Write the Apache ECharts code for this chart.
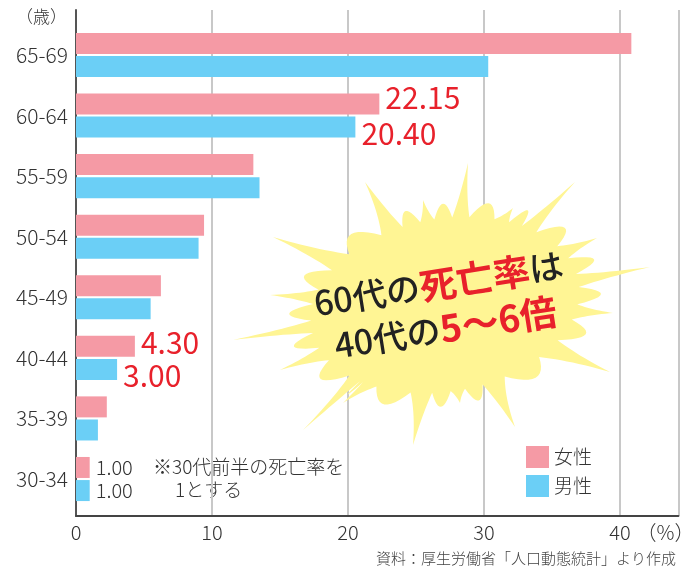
<!DOCTYPE html>
<html>
<head>
<meta charset="utf-8">
<script src="https://cdn.jsdelivr.net/npm/echarts@6/dist/echarts.min.js"></script>
<style>
    html, body { margin: 0; padding: 0; background: #fff; }
    #chart { width: 697px; height: 568px; }
</style>
</head>
<body>
<div id="chart"></div>
<script>
// 年齢階級（上から下）
const ageGroups = ['65-69', '60-64', '55-59', '50-54', '45-49', '40-44', '35-39', '30-34']
// 30代前半を 1 とした死亡率
const femaleRates = [40.55, 22.15, 12.95, 9.35, 6.2, 4.30, 2.25, 1.00]
const maleRates   = [30.1, 20.40, 13.4, 8.95, 5.45, 3.00, 1.6, 1.00]
const xTicks = [0, 10, 20, 30, 40]

// 値ラベルを出す行（index -> 縦方向のずらし, 色, サイズ）
const femaleLabels = { 1: [-6, '#e8212b', 30], 5: [-4, '#e8212b', 30], 7: [0, '#333', 20] }
const maleLabels   = { 1: [6, '#e8212b', 30], 5: [6, '#e8212b', 30], 7: [0, '#333', 20] }

const PINK = '#f59aa5'
const BLUE = '#6bcff6'
const FONT = '"Noto Sans CJK JP", "Noto Sans", sans-serif'
const THIN = 300

// 吹き出し（爆発形）の先端
const burstTips = [
    [468, 163], [513, 208], [575, 182], [597, 238], [650, 267], [613, 313],
    [610, 372], [515, 427], [460, 403], [413, 445], [343, 403], [303, 430],
    [280, 370], [233, 340], [270, 295], [273, 237], [365, 182], [423, 200],
]

function burstPoints(cx, cy, rx, ry, rot) {
    const c = Math.cos(rot), s = Math.sin(rot)
    const toLocal = ([x, y]) => { const dx = x - cx, dy = y - cy; return [dx * c + dy * s, -dx * s + dy * c] }
    const toScreen = (lx, ly) => [cx + lx * c - ly * s, cy + lx * s + ly * c]
    const onEllipse = (t, k) => toScreen(rx * k * Math.cos(t), ry * k * Math.sin(t))
    const lerp = (a, b, f) => [a[0] + (b[0] - a[0]) * f, a[1] + (b[1] - a[1]) * f]
    const norm = (a) => { while (a < 0) a += Math.PI * 2; while (a >= Math.PI * 2) a -= Math.PI * 2; return a }
    const pts = []
    const quad = (p0, p1, p2) => {
        for (let k = 1; k <= 12; k++) {
            const t = k / 12
            pts.push(lerp(lerp(p0, p1, t), lerp(p1, p2, t), t))
        }
    }

    const tips = burstTips.map(p => { const l = toLocal(p); return { p, t: Math.atan2(l[1] / ry, l[0] / rx) } })
        .sort((a, b) => a.t - b.t)
    const n = tips.length
    tips.forEach((tp, i) => {
        const dPrev = norm(tp.t - tips[(i - 1 + n) % n].t)
        const dNext = norm(tips[(i + 1) % n].t - tp.t)
        tp.bl = tp.t - 0.22 * dPrev
        tp.br = tp.t + 0.22 * dNext
    })
    let cur = onEllipse(tips[0].bl, 1)
    pts.push(cur)
    tips.forEach((tp, i) => {
        const bl = onEllipse(tp.bl, 1), br = onEllipse(tp.br, 1)
        const mid = onEllipse(tp.t, 1)
        const axis = lerp(mid, tp.p, 0.35)
        const cl = lerp(lerp(bl, tp.p, 0.45), axis, 0.4)
        const cr = lerp(lerp(br, tp.p, 0.45), axis, 0.4)
        quad(cur, cl, tp.p)
        quad(tp.p, cr, br)
        const nx = tips[(i + 1) % n]
        let nbl = nx.bl
        if (nbl < tp.br) nbl += Math.PI * 2
        const nxt = onEllipse(nbl, 1)
        quad(br, onEllipse((tp.br + nbl) / 2, 1.34), nxt)
        cur = nxt
    })
    return pts
}

function buildData(values, labels) {
    return values.map((v, i) => {
        const l = labels[i]
        if (!l) return v
        return {
            value: v,
            label: {
                show: true, position: 'right', distance: 6,
                offset: [0, l[0]], color: l[1], fontSize: l[2], fontFamily: FONT,
                fontWeight: l[2] < 25 ? THIN : 'normal',
                formatter: (p) => p.value.toFixed(2),
            },
        }
    })
}

const chart = echarts.init(document.getElementById('chart'), null, { renderer: 'canvas' })

chart.setOption({
    animation: false,
    textStyle: { fontFamily: FONT },
    grid: [
        // 棒グラフ用
        { left: 76, right: 14.3, top: 24.7, bottom: 58.7 },
        // 軸・目盛線用
        { left: 76, right: 14.3, top: 10, bottom: 52 },
    ],
    legend: {
        orient: 'vertical', left: 521, top: 441,
        itemWidth: 23, itemHeight: 22, itemGap: 7,
        icon: 'rect',
        data: ['女性', '男性'],
        textStyle: { fontSize: 19, color: '#333', fontFamily: FONT, fontWeight: THIN },
    },
    xAxis: [
        { gridIndex: 0, type: 'value', min: 0, max: 44.3, show: false },
        {
            gridIndex: 1, type: 'value', min: 0, max: 44.3, interval: 10,
            axisLine: { show: true, lineStyle: { color: '#444', width: 2 } },
            axisTick: { show: false },
            axisLabel: {
                color: '#333', fontSize: 20, margin: 6, fontFamily: FONT, fontWeight: THIN,
                formatter: (v) => xTicks.includes(v) ? String(v) : '',
            },
            splitLine: { show: true, lineStyle: { color: '#c8c8c8', width: 2 } },
            name: '（%）', nameLocation: 'end', nameGap: 0,
            nameTextStyle: {
                color: '#333', fontSize: 20, fontFamily: FONT, fontWeight: THIN,
                align: 'right', verticalAlign: 'top', padding: [6, 0, 0, 0],
            },
        },
    ],
    yAxis: [
        {
            gridIndex: 0, type: 'category', data: ageGroups, inverse: true,
            axisLine: { show: false }, axisTick: { show: false },
            axisLabel: { color: '#333', fontSize: 21, margin: 8, fontFamily: FONT, fontWeight: THIN },
        },
        {
            gridIndex: 1, type: 'value', min: 0, max: 1,
            axisLine: { show: true, lineStyle: { color: '#555', width: 2 } },
            axisTick: { show: false }, axisLabel: { show: false }, splitLine: { show: false },
        },
    ],
    series: [
        {
            name: '女性', type: 'bar', xAxisIndex: 0, yAxisIndex: 0,
            data: buildData(femaleRates, femaleLabels),
            barWidth: 21, barGap: '10%',
            itemStyle: { color: PINK },
        },
        {
            name: '男性', type: 'bar', xAxisIndex: 0, yAxisIndex: 0,
            data: buildData(maleRates, maleLabels),
            barWidth: 21, barGap: '10%',
            itemStyle: { color: BLUE },
        },
    ],
    graphic: [
        {
            type: 'polygon', z: 1, silent: true,
            shape: { points: burstPoints(445, 305, 135, 86, -10 * Math.PI / 180) },
            style: { fill: '#fff594' },
        },
        {
            type: 'text', z: 100, x: 442, y: 306, rotation: 9 * Math.PI / 180,
            style: {
                text: '{k|60代の}{r|死亡率}{k|は}\n{k|40代の}{r|5～6倍}',
                align: 'center', verticalAlign: 'middle',
                rich: {
                    k: { fontSize: 34, fontWeight: 500, fill: '#222', fontFamily: FONT, lineHeight: 45 },
                    r: { fontSize: 37, fontWeight: 'bold', fill: '#e8212b', fontFamily: FONT, lineHeight: 45 },
                },
            },
        },
        {
            type: 'text', left: 16, top: 8,
            style: { text: '（歳）', fontSize: 17, fill: '#333', fontFamily: FONT, fontWeight: THIN },
        },
        {
            type: 'text', x: 153, y: 467,
            style: { text: '※30代前半の死亡率を', fontSize: 19, fill: '#333', fontFamily: FONT, fontWeight: THIN, verticalAlign: 'middle' },
        },
        {
            type: 'text', x: 175, y: 490,
            style: { text: '1とする', fontSize: 19, fill: '#333', fontFamily: FONT, fontWeight: THIN, verticalAlign: 'middle' },
        },
        {
            type: 'text', x: 676, y: 558,
            style: {
                text: '資料：厚生労働省「人口動態統計」より作成', fontSize: 15, fill: '#444',
                fontFamily: FONT, fontWeight: THIN, align: 'right', verticalAlign: 'middle',
            },
        },
    ],
})
</script>
</body>
</html>
